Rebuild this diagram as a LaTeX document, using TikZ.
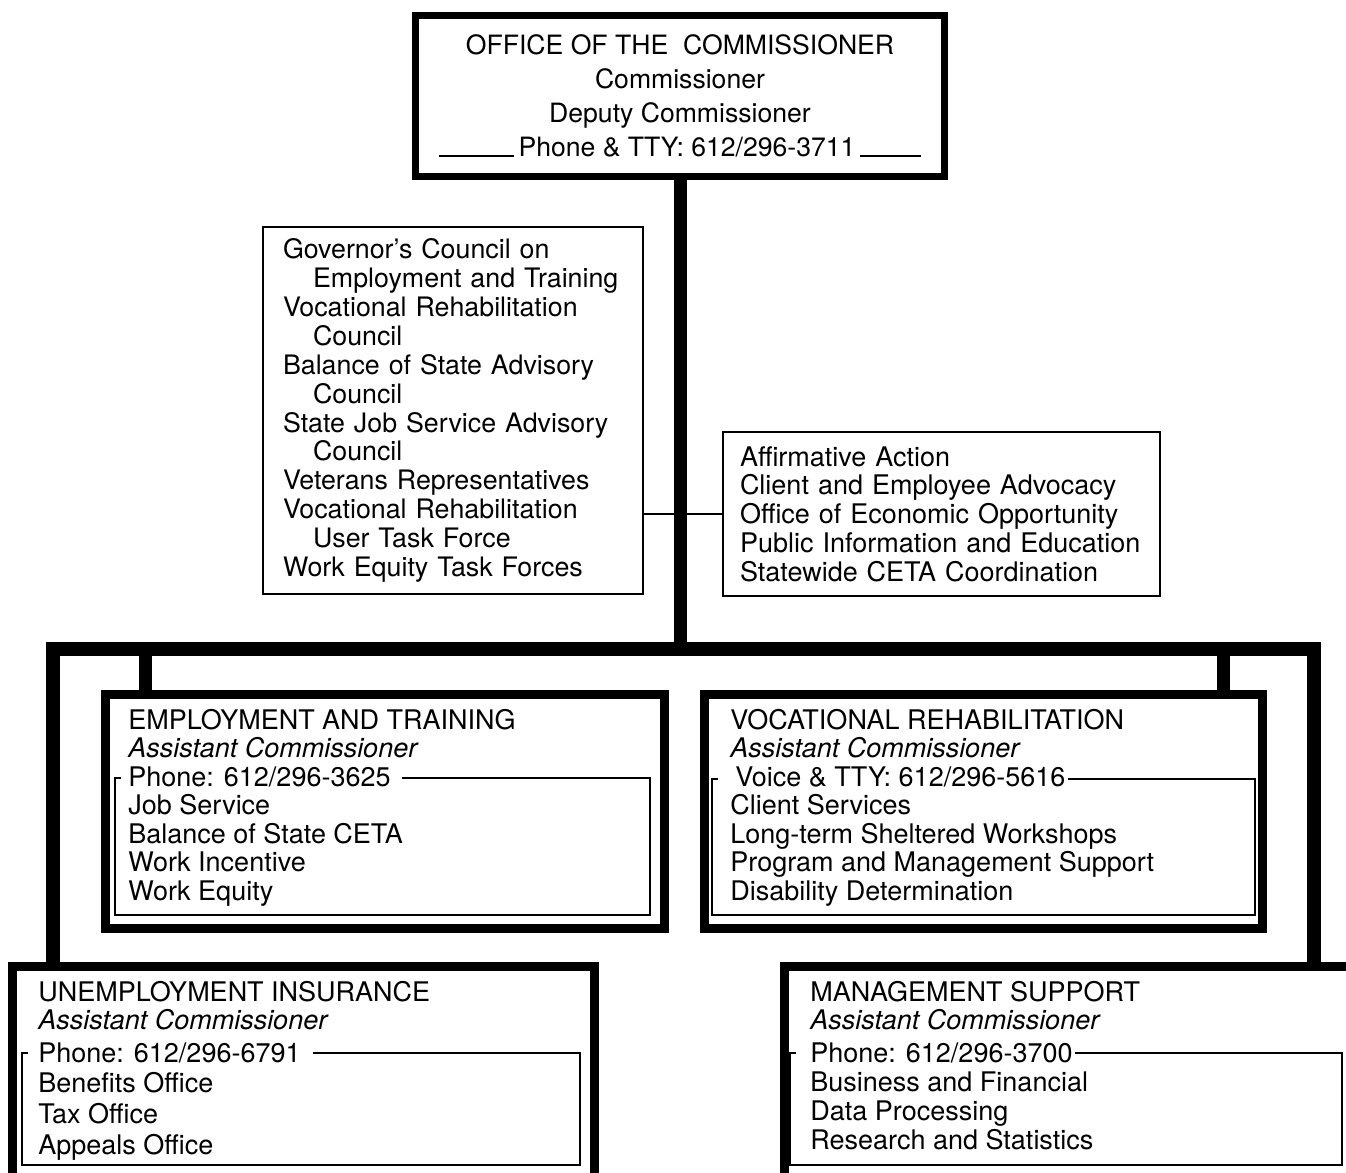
\documentclass[tikz,border=0pt]{standalone}
\usepackage{fontspec}
\setmainfont{TeX Gyre Heros}

\tikzset{
  dept/.style={draw, line width=4.5pt, inner sep=0pt},
  thinbox/.style={draw, line width=0.75pt, inner sep=0pt, align=left},
  txt/.style={anchor=base west, inner sep=0pt, font=\fontsize{13.5}{16}\selectfont},
  ital/.style={txt, font=\fontsize{13.5}{16}\selectfont\itshape},
  frame/.style={line width=0.75pt},
  bus/.style={line width=7pt, line join=miter},
  tap/.style={line width=6.5pt}
}

\begin{document}
\begin{tikzpicture}[x=0.5pt,y=-0.5pt]
\useasboundingbox (0,0) rectangle (1346,1173);
\clip (0,0) rectangle (1346,1173);

% commissioner
\node[draw, line width=3.5pt, minimum width=264.5pt, minimum height=80.5pt, align=center,
  font=\fontsize{13.3}{17}\selectfont] (office) at (680,96)
  {OFFICE OF THE\ \ COMMISSIONER\\ Commissioner\\ Deputy Commissioner\\
   \rule{37.5pt}{0.8pt}\hspace{2.5pt}Phone \& TTY: 612/296-3711\hspace{2.5pt}\rule{30.5pt}{0.8pt}};

% advisory and staff boxes
\node[thinbox, minimum width=190pt, minimum height=183.5pt, text width=170pt, inner xsep=10pt,
  font=\fontsize{13.4}{14.45}\selectfont] (council) at (453,410.5)
  {Governor's Council on\\ \hspace*{15pt}Employment and Training\\
   Vocational Rehabilitation\\ \hspace*{15pt}Council\\
   Balance of State Advisory\\ \hspace*{15pt}Council\\
   State Job Service Advisory\\ \hspace*{15pt}Council\\
   Veterans Representatives\\
   Vocational Rehabilitation\\ \hspace*{15pt}User Task Force\\
   Work Equity Task Forces};
\node[thinbox, minimum width=218.5pt, minimum height=82pt, text width=201.5pt, inner xsep=8.5pt,
  font=\fontsize{13.5}{14.4}\selectfont] (staff) at (941.5,514)
  {Affirmative Action\\ Client and Employee Advocacy\\ Office of Economic Opportunity\\
   Public Information and Education\\ Statewide CETA Coordination};

% divisions
\node[dept, minimum width=279.5pt, minimum height=117pt] (emp) at (384.5,811) {};
\node[dept, minimum width=279pt, minimum height=117pt] (voc) at (983,811) {};
\node[dept, minimum width=291pt, minimum height=107pt] (unemp) at (303,1073) {};
\node[dept, minimum width=293pt, minimum height=107pt] (mgmt) at (1077,1073) {};

% connectors
\coordinate (barL) at (53,649);
\coordinate (barR) at (1314,649);
\coordinate (tapL) at (145,649);
\coordinate (tapR) at (1223,649);
\draw[line width=0.75pt] (council.east |- staff.west) -- (staff.west);
\draw[tap] (office.south) -- (office.south |- barL);
\draw[bus] (unemp.north -| barL) -- (barL) -- (barR) -- (mgmt.north -| barR);
\draw[tap] (tapL) -- (tapL |- emp.north);
\draw[tap] (tapR) -- (tapR |- voc.north);

% employment and training
\node[txt] (emp-t) at (128,729) {EMPLOYMENT AND TRAINING};
\node[ital] (emp-a) at (128,757) {Assistant Commissioner};
\node[txt] (emp-p) at (128,786) {Phone: 612/296-3625};
\foreach \t [count=\i] in {Job Service, Balance of State CETA, Work Incentive, Work Equity}
  \node[txt] (emp-\i) at (128,786+28.5*\i) {\t};
\coordinate (emp-tl) at (115,778);
\coordinate (emp-br) at (650,915);
\draw[frame] ([xshift=3pt]emp-tl) -- (emp-tl) |- (emp-br) |- ([xshift=5.5pt]emp-p.east |- emp-tl);

% vocational rehabilitation
\node[txt] (voc-t) at (730,729) {VOCATIONAL REHABILITATION};
\node[ital] (voc-a) at (730,757) {Assistant Commissioner};
\node[txt] (voc-p) at (735,786) {Voice \& TTY: 612/296-5616};
\foreach \t [count=\i] in {Client Services, Long-term Sheltered Workshops,
    Program and Management Support, Disability Determination}
  \node[txt] (voc-\i) at (730,786+28.5*\i) {\t};
\coordinate (voc-tl) at (712,779);
\coordinate (voc-br) at (1255,915);
\draw[frame] ([xshift=3pt]voc-tl) -- (voc-tl) |- (voc-br) |- ([xshift=1pt]voc-p.east |- voc-tl);

% unemployment insurance
\node[txt] (unemp-t) at (38,1001) {UNEMPLOYMENT INSURANCE};
\node[ital] (unemp-a) at (38,1029) {Assistant Commissioner};
\node[txt] (unemp-p) at (38,1062) {Phone: 612/296-6791};
\foreach \t [count=\i] in {Benefits Office, Tax Office, Appeals Office}
  \node[txt] (unemp-\i) at (38,1062+30.7*\i) {\t};
\coordinate (unemp-tl) at (22,1053);
\coordinate (unemp-br) at (580,1165);
\draw[frame] ([xshift=3pt]unemp-tl) -- (unemp-tl) |- (unemp-br) |- ([xshift=6pt]unemp-p.east |- unemp-tl);

% management support
\node[txt] (mgmt-t) at (810,1001) {MANAGEMENT SUPPORT};
\node[ital] (mgmt-a) at (810,1029) {Assistant Commissioner};
\node[txt] (mgmt-p) at (810,1062) {Phone: 612/296-3700};
\foreach \t [count=\i] in {Business and Financial, Data Processing, Research and Statistics}
  \node[txt] (mgmt-\i) at (810,1062+29*\i) {\t};
\coordinate (mgmt-tl) at (790,1053);
\coordinate (mgmt-br) at (1342,1165);
\draw[frame] ([xshift=3pt]mgmt-tl) -- (mgmt-tl) |- (mgmt-br) |- ([xshift=1pt]mgmt-p.east |- mgmt-tl);
\end{tikzpicture}
\end{document}
